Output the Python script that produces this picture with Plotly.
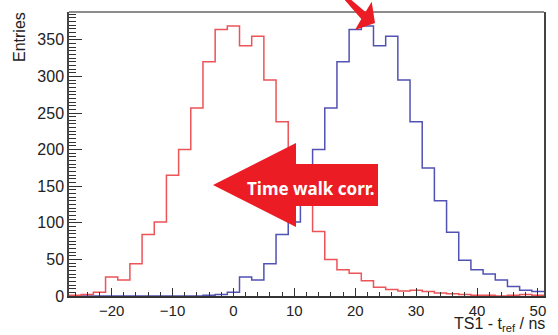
import numpy as np
import plotly.graph_objects as go

# ---- data ----
bin_lo, bin_hi, bin_w = -27, 51, 2
red_counts = [1, 2, 5, 26, 22, 44, 84, 101, 165, 200, 257, 320, 364, 369,
              342, 355, 295, 238, 175, 130, 88, 50, 36, 31, 21, 12, 9, 7,
              8, 6, 4, 3, 2, 1, 1, 0, 1, 2, 1]
blue_counts = [0, 0, 0, 0, 0, 0, 0, 0, 0, 0, 0, 1, 2, 5,
               26, 22, 44, 84, 101, 165, 200, 257, 320, 364, 369, 342, 355, 295,
               238, 175, 130, 87, 49, 36, 30, 22, 13, 8, 6]
x_title = "TS1 - t<sub>ref</sub> / ns"
y_title = "Entries"
arrow_text = "Time walk corr."

edges = np.arange(bin_lo, bin_hi + bin_w / 2, bin_w)

def step(counts):
    return list(edges), list(counts) + [counts[-1]]

# ---- figure geometry ----
W, H = 558, 335
L, R, T, B = 69, 14, 12, 39
pw, ph = W - L - R, H - T - B

def P(px, py):
    return (px - L) / pw, (H - B - py) / ph

def path(points):
    s = ""
    for i, (px, py) in enumerate(points):
        x, y = P(px, py)
        s += ("M" if i == 0 else " L") + f" {x:.5f},{y:.5f}"
    return s + " Z"

fig = go.Figure()
xb, yb = step(blue_counts)
xr, yr = step(red_counts)
fig.add_trace(go.Scatter(x=xb, y=yb, mode="lines", line=dict(color="#5252b4", width=1.5, shape="hv"),
                         showlegend=False, hoverinfo="skip"))
fig.add_trace(go.Scatter(x=xr, y=yr, mode="lines", line=dict(color="#ec5458", width=1.5, shape="hv"),
                         showlegend=False, hoverinfo="skip"))

xtickfont = dict(family="Liberation Sans, Arial, sans-serif", size=15, color="#222")
ytickfont = dict(family="Liberation Sans, Arial, sans-serif", size=16, color="#222")
fig.update_layout(
    width=W, height=H, margin=dict(l=L, r=R, t=T, b=B),
    paper_bgcolor="white", plot_bgcolor="white",
    xaxis=dict(range=[bin_lo, bin_hi], dtick=10, ticks="inside", ticklen=8, tickwidth=1.2,
               tickcolor="#333", showline=True, linecolor="#333", linewidth=1.5,
               showgrid=False, zeroline=False, tickfont=xtickfont,
               minor=dict(ticks="inside", dtick=2, ticklen=4, tickcolor="#333", tickwidth=1)),
    yaxis=dict(range=[0, 388], dtick=50, ticks="inside", ticklen=13, tickwidth=1.2,
               tickcolor="#333", showline=True, linecolor="#444", linewidth=1.5, mirror=True,
               showgrid=False, zeroline=False, tickfont=ytickfont,
               minor=dict(ticks="inside", dtick=5, ticklen=7, tickcolor="#333", tickwidth=1)),
)

red_fill = "#ec1c24"
# top frame line
fig.add_shape(type="line", xref="paper", yref="paper", x0=0, x1=1, y0=1, y1=1,
              line=dict(color="#8c8c8c", width=2))
# big "time walk" arrow
fig.add_shape(type="path", xref="paper", yref="paper",
              path=path([(213, 185), (296, 143), (296, 164), (378, 164), (378, 206),
                         (296, 206), (296, 227)]),
              fillcolor=red_fill, line=dict(width=0))
# small pointer arrow at top
fig.add_shape(type="path", xref="paper", yref="paper",
              path=path([(343, -2), (349, -2), (365.5, 12), (371.7, 1.7), (375, 23),
                         (355, 30), (361.3, 19)]),
              fillcolor=red_fill, line=dict(width=0))

x, y = P(310, 189)
fig.add_annotation(x=x, y=y, xref="paper", yref="paper", text=f"<b>{arrow_text}</b>",
                   showarrow=False, font=dict(family="Noto Sans, Open Sans, sans-serif", size=17, color="white"))
x, y = P(19, 37)
fig.add_annotation(x=x, y=y, xref="paper", yref="paper", text=y_title, textangle=-90,
                   showarrow=False, xanchor="center", yanchor="middle",
                   font=dict(family="Liberation Sans, Arial, sans-serif", size=16, color="#222"))
x, y = P(547, 336)
fig.add_annotation(x=x, y=y, xref="paper", yref="paper", text=x_title,
                   showarrow=False, xanchor="right", yanchor="bottom",
                   font=dict(family="Liberation Sans, Arial, sans-serif", size=16, color="#222"))

fig.write_html("out.html")
